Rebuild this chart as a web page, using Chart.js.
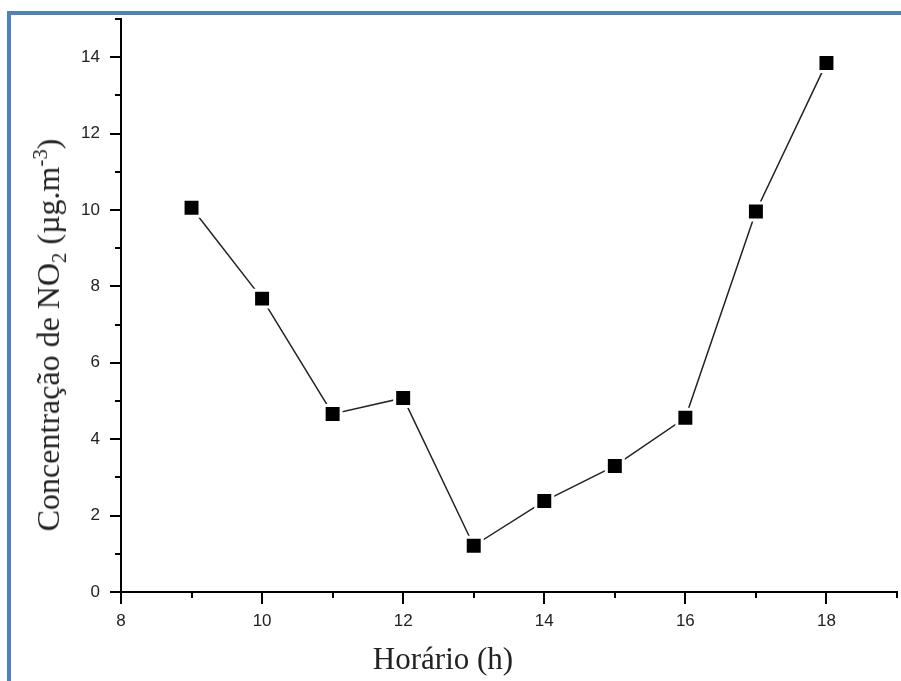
<!DOCTYPE html>
<html>
<head>
<meta charset="utf-8">
<script src="https://cdn.jsdelivr.net/npm/chart.js@4.4.0/dist/chart.umd.min.js"></script>
<style>
    html, body { margin: 0; padding: 0; background: #ffffff; }
    #wrap { position: relative; width: 901px; height: 681px; overflow: hidden; }
    #frame {
        position: absolute; left: 7px; top: 11px; right: -10px; bottom: -10px;
        border-top: 4px solid #4f81bd; border-left: 4px solid #4f81bd;
    }
    #chartNO2 { position: absolute; left: 0; top: 0; }
    .axis-title {
        position: absolute; font-family: "Liberation Serif", "Times New Roman", serif;
        font-size: 31px; line-height: 1; color: #222222; white-space: nowrap;
    }
    .axis-title sub, .axis-title sup { font-size: 65%; line-height: 0; }
    #titleX { left: 443px; top: 658px; transform: translate(-50%, -50%); }
    #titleY { left: 48px; top: 335px; font-size: 32px; transform: translate(-50%, -50%) rotate(-90deg); }
</style>
</head>
<body>
<div id="wrap">
    <div id="frame"></div>
    <canvas id="chartNO2" width="901" height="681"></canvas>
    <div class="axis-title" id="titleX">Horário (h)</div>
    <div class="axis-title" id="titleY">Concentração de NO<sub>2</sub> (µg.m<sup>-3</sup>)</div>
</div>
<script>
const horas = [9, 10, 11, 12, 13, 14, 15, 16, 17, 18];
const concentracao = [10.06, 7.68, 4.66, 5.08, 1.21, 2.38, 3.30, 4.56, 9.96, 13.85];
const xMinorTicks = [9, 11, 13, 15, 17, 19];
const yMinorTicks = [1, 3, 5, 7, 9, 11, 13, 15];

// minor tick marks, drawn outside the axes like in the original plot
const minorTicks = {
    id: 'minorTicks',
    afterDraw(chart) {
        const ctx = chart.ctx;
        const area = chart.chartArea;
        const xs = chart.scales.x;
        const ys = chart.scales.y;
        ctx.save();
        ctx.strokeStyle = '#000000';
        ctx.lineWidth = 2;
        ctx.beginPath();
        for (let v of xMinorTicks) {
            const px = Math.round(xs.getPixelForValue(v));
            ctx.moveTo(px, area.bottom);
            ctx.lineTo(px, area.bottom + 6);
        }
        for (let v of yMinorTicks) {
            const py = Math.round(ys.getPixelForValue(v));
            ctx.moveTo(area.left, py);
            ctx.lineTo(area.left - 6, py);
        }
        ctx.stroke();
        ctx.restore();
    }
};

new Chart(document.getElementById('chartNO2'), {
    type: 'scatter',
    data: {
        datasets: [{
            data: horas.map((h, i) => ({ x: h, y: concentracao[i] })),
            showLine: true,
            clip: false,
            borderColor: '#222222',
            borderWidth: 1.5,
            pointStyle: 'rect',
            pointRadius: 12,
            pointHoverRadius: 12,
            pointBackgroundColor: '#000000',
            pointBorderColor: '#ffffff',
            pointBorderWidth: 3
        }]
    },
    options: {
        responsive: false,
        animation: false,
        layout: { autoPadding: false, padding: { top: 19, right: 4, left: 0, bottom: 0 } },
        plugins: {
            legend: { display: false },
            tooltip: { enabled: false }
        },
        scales: {
            x: {
                type: 'linear',
                min: 8,
                max: 19,
                afterFit: s => { s.height = 89; s.paddingLeft = 0; s.paddingRight = 0; },
                border: { display: true, color: '#000000', width: 2 },
                grid: { drawOnChartArea: false, drawTicks: true, tickLength: 12, color: '#000000', lineWidth: 2 },
                ticks: {
                    stepSize: 2,
                    includeBounds: false,
                    padding: 7,
                    color: '#222222',
                    font: { family: 'Liberation Sans', size: 17 }
                }
            },
            y: {
                min: 0,
                max: 15,
                afterFit: s => { s.width = 121; s.paddingTop = 0; s.paddingBottom = 0; },
                border: { display: true, color: '#000000', width: 2 },
                grid: { drawOnChartArea: false, drawTicks: true, tickLength: 11, color: '#000000', lineWidth: 2 },
                ticks: {
                    stepSize: 2,
                    includeBounds: false,
                    padding: 10,
                    color: '#222222',
                    font: { family: 'Liberation Sans', size: 17 }
                }
            }
        }
    },
    plugins: [minorTicks]
});
</script>
</body>
</html>
